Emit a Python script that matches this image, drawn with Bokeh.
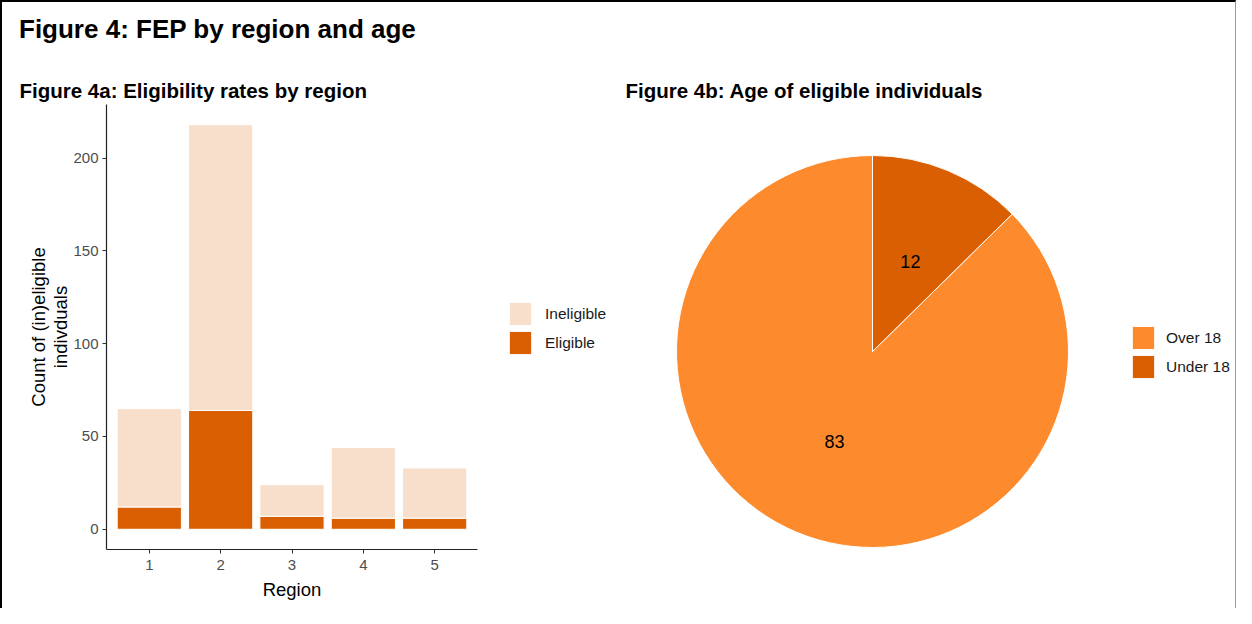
import numpy as np
from bokeh.plotting import figure
from bokeh.models import (Legend, LegendItem, FixedTicker, Range1d,
                          ColumnDataSource, Div)
from bokeh.core.properties import value
from bokeh.layouts import row, column
from bokeh.embed import file_html
from bokeh.resources import INLINE

# ---- data ----
regions = [1, 2, 3, 4, 5]
eligible = [12, 64, 7, 6, 6]
ineligible = [53, 154, 17, 38, 27]
y_ticks = [0, 50, 100, 150, 200]
bar_series = ["Ineligible", "Eligible"]

age_groups = ["Over 18", "Under 18"]
age_counts = [83, 12]

main_title = "Figure 4: FEP by region and age"
title_a = "Figure 4a: Eligibility rates by region"
title_b = "Figure 4b: Age of eligible individuals"

# ---- styles ----
FONT = "Liberation Sans"
C_ELIG = "#D95F02"
C_INEL = "#F7DFCC"
C_OVER = "#FD8A2C"
C_UNDER = "#D95F02"

HDIV = 60
H = 606 - HDIV
TOP = 42                 # space above the frames (subtitles live here)
FW1, FH = 371, 445       # bar frame size; the pie frame shares its height
BOTTOM = H - TOP - FH
FRAME_TOP = 2 + HDIV + TOP

title_div = Div(
    text=('<div style="padding:9px 0 0 17px; font-family:\'Liberation Sans\', Arial, sans-serif;'
          ' font-size:26px; font-weight:bold; color:black; white-space:nowrap;">'
          + main_title + '</div>'),
    width=1233, height=HDIV, margin=0)

# ---- left: stacked bars ----
W1 = 104 + FW1 + 10
p1 = figure(width=W1, height=H, output_backend="svg", toolbar_location=None,
            x_range=Range1d(0.4, 5.6), y_range=Range1d(-10.9, 228.9))
p1.min_border_left = 104
p1.min_border_right = W1 - 104 - FW1
p1.min_border_top = TOP
p1.min_border_bottom = BOTTOM
p1.outline_line_color = None
p1.border_fill_color = "white"
p1.xgrid.visible = False
p1.ygrid.visible = False

src = ColumnDataSource(dict(region=regions, Eligible=eligible, Ineligible=ineligible))
rs = p1.vbar_stack(["Eligible", "Ineligible"], x="region", width=0.9, source=src,
                   color=[C_ELIG, C_INEL], line_color="white", line_width=1)

for ax in (p1.xaxis[0], p1.yaxis[0]):
    ax.axis_line_color = "#222222"
    ax.axis_line_width = 1.2
    ax.major_tick_line_color = "#333333"
    ax.major_tick_out = 4
    ax.major_tick_in = 0
    ax.minor_tick_line_color = None
    ax.major_label_text_font = FONT
    ax.major_label_text_font_size = "15px"
    ax.major_label_text_color = "#4D4D4D"
    ax.axis_label_text_font = FONT
    ax.axis_label_text_font_size = "18.5px"
    ax.axis_label_text_font_style = "normal"
    ax.axis_label_text_color = "black"

p1.xaxis.ticker = FixedTicker(ticks=regions)
p1.yaxis.ticker = FixedTicker(ticks=y_ticks)
p1.xaxis.axis_label = "Region"
p1.yaxis.axis_label = "Count of (in)eligible\nindivduals"
p1.yaxis.axis_label_text_line_height = 1.05
p1.xaxis.axis_label_standoff = 6
p1.yaxis.axis_label_standoff = -1
p1.xaxis.major_label_standoff = 6
p1.yaxis.major_label_standoff = 4

p1.title.text = title_a
p1.title.text_font = FONT
p1.title.text_font_size = "20.5px"
p1.title.text_font_style = "bold"
p1.title.text_color = "black"
p1.title.align = "left"
p1.title.offset = -87
p1.title.standoff = 6

# ---- right: pie (its frame also hosts the bar legend) ----
W2 = 1233 - W1
S = 196.0                      # pixels per unit radius
CX = 872 - (W1 + 2)            # pie centre, px from frame left
CY = 351 - FRAME_TOP           # pie centre, px from frame top
p2 = figure(width=W2, height=H, output_backend="svg", toolbar_location=None,
            x_range=Range1d(-CX / S, (W2 - CX) / S),
            y_range=Range1d(-(FH - CY) / S, CY / S))
p2.min_border_left = 0
p2.min_border_right = 0
p2.min_border_top = TOP
p2.min_border_bottom = BOTTOM
p2.outline_line_color = None
p2.axis.visible = False
p2.grid.visible = False
p2.border_fill_color = "white"

total = sum(age_counts)
# clockwise from 12 o'clock, Under 18 first (as drawn)
order = [1, 0]
cum = 0.0
starts, ends, mids = {}, {}, {}
for i in order:
    frac = age_counts[i] / total
    a_from = np.pi / 2 - cum * 2 * np.pi
    a_to = np.pi / 2 - (cum + frac) * 2 * np.pi
    starts[i], ends[i] = a_to, a_from
    mids[i] = (a_from + a_to) / 2
    cum += frac

colors = [C_OVER, C_UNDER]
for i in range(len(age_groups)):
    p2.wedge(x=0, y=0, radius=1, start_angle=starts[i], end_angle=ends[i],
             fill_color=colors[i], line_color="white", line_width=1)

lab_src = ColumnDataSource(dict(
    x=[0.5 * np.cos(mids[i]) for i in range(len(age_groups))],
    y=[0.5 * np.sin(mids[i]) for i in range(len(age_groups))],
    t=[str(c) for c in age_counts]))
p2.text(x="x", y="y", text="t", source=lab_src, text_align="center",
        text_baseline="middle", text_font=value(FONT), text_font_size="18px",
        text_color="black")

# legend swatches (square keys; no visible data)
key_src = ColumnDataSource(dict(x=[np.nan], top=[np.nan]))


def key(color):
    return p2.vbar(x="x", top="top", width=0.9, source=key_src,
                   fill_color=color, line_color="white", line_width=1)


def style_legend(leg, standoff):
    leg.glyph_width = 28
    leg.glyph_height = 29
    leg.label_height = 29
    leg.spacing = 0
    leg.padding = 0
    leg.margin = 0
    leg.label_standoff = standoff
    leg.label_text_font = FONT
    leg.label_text_font_size = "15.5px"
    leg.label_text_color = "#1A1A1A"
    leg.border_line_color = None
    leg.background_fill_alpha = 0


leg1 = Legend(items=[LegendItem(label=bar_series[0], renderers=[key(C_INEL)]),
                     LegendItem(label=bar_series[1], renderers=[key(C_ELIG)])],
              location=(506 - (W1 + 2), (FRAME_TOP + FH) - 357))
style_legend(leg1, 11)
p2.add_layout(leg1, "center")

leg2 = Legend(items=[LegendItem(label=age_groups[i], renderers=[key(colors[i])])
                     for i in range(len(age_groups))],
              location=(1129 - (W1 + 2), (FRAME_TOP + FH) - 381))
style_legend(leg2, 9)
p2.add_layout(leg2, "center")

p2.title.text = title_b
p2.title.text_font = FONT
p2.title.text_font_size = "20.5px"
p2.title.text_font_style = "bold"
p2.title.text_color = "black"
p2.title.align = "left"
p2.title.offset = 625 - (W1 + 2)
p2.title.standoff = 6

layout = column(title_div, row(p1, p2),
                styles={"border-left": "2px solid black",
                        "border-top": "2px solid black",
                        "border-right": "1px solid #999999"})

open("out.html", "w").write(file_html(layout, INLINE))
